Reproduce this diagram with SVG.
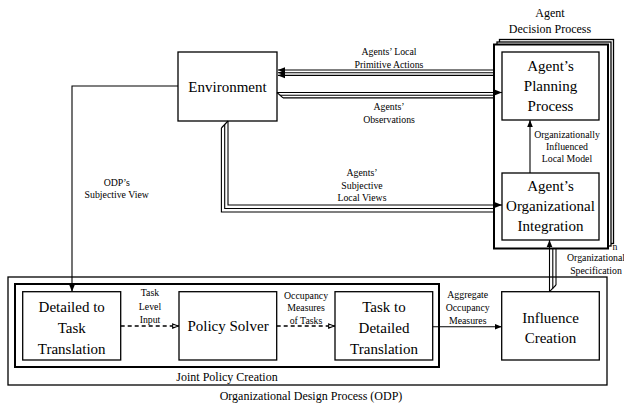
<svg xmlns="http://www.w3.org/2000/svg" width="624" height="407" viewBox="0 0 624 407" font-family="'Liberation Serif', 'DejaVu Serif', 'Times New Roman', serif">
<defs>
<marker id="ah" viewBox="0 0 10 10" refX="10" refY="5" markerWidth="7" markerHeight="7" markerUnits="userSpaceOnUse" orient="auto"><path d="M0,1 L10,5 L0,9 Z" fill="#000"/></marker>
<marker id="oh" viewBox="0 0 10 10" refX="10" refY="5" markerWidth="7" markerHeight="7" markerUnits="userSpaceOnUse" orient="auto"><path d="M1,2 L9,5 L1,8 Z" fill="#fff" stroke="#000" stroke-width="1.6"/></marker>
</defs>
<style>
.box{fill:#fff;stroke:#000;stroke-width:1.3}
.thick{fill:#fff;stroke:#000;stroke-width:2}
.ln{fill:none;stroke:#000;stroke-width:1.1}
.dash{fill:none;stroke:#000;stroke-width:1.3;stroke-dasharray:4,3}
text{font-family:'Liberation Serif','DejaVu Serif','Times New Roman',serif;fill:#000;text-anchor:middle}
.big{font-size:15px}
.mid{font-size:12px}
.sm{font-size:9.8px}
</style>
<rect width="624" height="407" fill="#fff"/>

<g id="odp">
<rect x="8" y="277" width="599" height="108" class="box" stroke-width="1.8"/>
<text x="311" y="400" class="mid">Organizational Design Process (ODP)</text>
</g>
<g id="jpc">
<rect x="15" y="284" width="424" height="83" class="thick"/>
<text x="227" y="381" class="mid">Joint Policy Creation</text>
</g>

<g id="agent-stack">
<rect x="499.5" y="39.5" width="114" height="204" class="box"/>
<rect x="497" y="42" width="114" height="204" class="box"/>
<rect x="494" y="44.5" width="114" height="204" class="thick"/>
<text x="550" y="17" class="mid">Agent</text>
<text x="550" y="33" class="mid">Decision Process</text>
<text x="615" y="250" class="sm">n</text>
</g>

<g id="environment">
<rect x="178" y="52" width="99" height="69" class="box"/>
<text x="227.5" y="91.5" class="big">Environment</text>
</g>
<g id="planning">
<rect x="502" y="52" width="97" height="68" class="box"/>
<text x="550.5" y="71" class="big">Agent’s</text>
<text x="550.5" y="91" class="big">Planning</text>
<text x="550.5" y="111" class="big">Process</text>
</g>
<g id="integration">
<rect x="502" y="173" width="97" height="67" class="box"/>
<text x="550.5" y="191" class="big">Agent’s</text>
<text x="550.5" y="211" class="big">Organizational</text>
<text x="550.5" y="231" class="big">Integration</text>
</g>
<g id="detailed-to-task">
<rect x="22.7" y="291.7" width="98" height="68.3" class="box"/>
<text x="71.7" y="312" class="big">Detailed to</text>
<text x="71.7" y="333" class="big">Task</text>
<text x="71.7" y="353.5" class="big">Translation</text>
</g>
<g id="policy-solver">
<rect x="179" y="291.7" width="97.7" height="68.3" class="box"/>
<text x="228" y="331" class="big">Policy Solver</text>
</g>
<g id="task-to-detailed">
<rect x="335" y="291.7" width="97.7" height="68.3" class="box"/>
<text x="384" y="312" class="big">Task to</text>
<text x="384" y="333" class="big">Detailed</text>
<text x="384" y="353.5" class="big">Translation</text>
</g>
<g id="influence">
<rect x="501.7" y="291.7" width="97.6" height="68.3" class="box"/>
<text x="550.5" y="322.5" class="big">Influence</text>
<text x="550.5" y="342.5" class="big">Creation</text>
</g>

<g id="connectors">
<line x1="494" y1="70" x2="278" y2="70" class="ln" marker-end="url(#ah)"/>
<line x1="494" y1="72.7" x2="278" y2="72.7" class="ln" marker-end="url(#ah)"/>
<line x1="494" y1="75.4" x2="278" y2="75.4" class="ln" marker-end="url(#ah)"/>
<line x1="277" y1="92.5" x2="502" y2="92.5" class="ln" marker-end="url(#ah)"/>
<line x1="280" y1="95.2" x2="494" y2="95.2" class="ln"/>
<line x1="283" y1="97.9" x2="494" y2="97.9" class="ln"/>
<line x1="277" y1="92.5" x2="283" y2="97.9" class="ln"/>
<path d="M228,121 V205 H502" class="ln" marker-end="url(#ah)"/>
<path d="M224.7,124.5 V208.5 H494" class="ln"/>
<path d="M221.4,128 V212 H494" class="ln"/>
<line x1="228" y1="121" x2="221.4" y2="128" class="ln"/>
<line x1="549.5" y1="291.7" x2="549.5" y2="240" class="ln" marker-end="url(#ah)"/>
<line x1="552.8" y1="288.4" x2="552.8" y2="248.5" class="ln"/>
<line x1="556" y1="285" x2="556" y2="248.5" class="ln"/>
<line x1="549.5" y1="291.7" x2="556" y2="285" class="ln"/>
<line x1="530" y1="173" x2="530" y2="120" class="ln" stroke-width="1.3" marker-end="url(#ah)"/>
<path d="M178,86 H72 V291.7" class="ln" stroke-width="1.3" marker-end="url(#ah)"/>
<line x1="120.7" y1="326" x2="179" y2="326" class="dash" marker-end="url(#oh)"/>
<line x1="276.7" y1="326" x2="335" y2="326" class="dash" marker-end="url(#oh)"/>
<line x1="432.7" y1="326.7" x2="501.7" y2="326.7" class="ln" stroke-width="1.3" marker-end="url(#ah)"/>
</g>

<g id="labels">
<text x="389" y="55" class="sm">Agents’ Local</text>
<text x="389" y="67.5" class="sm">Primitive Actions</text>
<text x="389" y="109.5" class="sm">Agents’</text>
<text x="389" y="122.5" class="sm">Observations</text>
<text x="362" y="176" class="sm">Agents’</text>
<text x="362" y="188.5" class="sm">Subjective</text>
<text x="362" y="201" class="sm">Local Views</text>
<text x="567" y="137.5" class="sm">Organizationally</text>
<text x="567" y="149.5" class="sm">Influenced</text>
<text x="567" y="161.5" class="sm">Local Model</text>
<text x="116.7" y="185.5" class="sm">ODP’s</text>
<text x="116.7" y="198" class="sm">Subjective View</text>
<text x="150" y="296" class="sm">Task</text>
<text x="150" y="310" class="sm">Level</text>
<text x="150" y="322.5" class="sm">Input</text>
<text x="306" y="298.5" class="sm">Occupancy</text>
<text x="306" y="311" class="sm">Measures</text>
<text x="306" y="323.5" class="sm">of Tasks</text>
<text x="467.7" y="298" class="sm">Aggregate</text>
<text x="467.7" y="311" class="sm">Occupancy</text>
<text x="467.7" y="323.5" class="sm">Measures</text>
<text x="596" y="261" class="sm">Organizational</text>
<text x="596" y="274" class="sm">Specification</text>
</g>
</svg>
